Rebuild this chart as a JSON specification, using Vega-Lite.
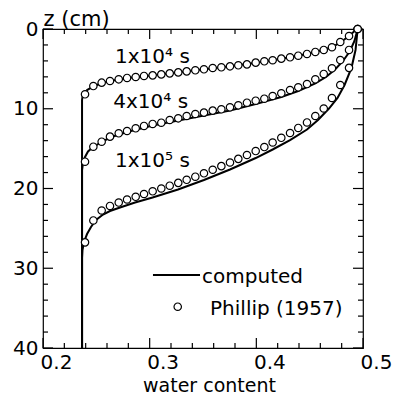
{
  "$schema": "https://vega.github.io/schema/vega-lite/v6.json",
  "width": 320,
  "height": 319,
  "autosize": {"type": "none"},
  "padding": {"left": 43, "top": 29, "right": 35, "bottom": 48},
  "background": "white",
  "config": {"view": {"stroke": "black", "strokeWidth": 1.2}},
  "datasets": {
    "lines": [
      {"curve": "t1", "o": 0, "theta": 0.2366, "z": 40},
      {"curve": "t1", "o": 1, "theta": 0.2366, "z": 8.9},
      {"curve": "t1", "o": 2, "theta": 0.2370, "z": 8.53},
      {"curve": "t1", "o": 3, "theta": 0.2384, "z": 8.15},
      {"curve": "t1", "o": 4, "theta": 0.2413, "z": 7.65},
      {"curve": "t1", "o": 5, "theta": 0.2472, "z": 7.21},
      {"curve": "t1", "o": 6, "theta": 0.2550, "z": 6.77},
      {"curve": "t1", "o": 7, "theta": 0.2628, "z": 6.52},
      {"curve": "t1", "o": 8, "theta": 0.2788, "z": 6.14},
      {"curve": "t1", "o": 9, "theta": 0.3028, "z": 5.81},
      {"curve": "t1", "o": 10, "theta": 0.3268, "z": 5.43},
      {"curve": "t1", "o": 11, "theta": 0.3509, "z": 5.05},
      {"curve": "t1", "o": 12, "theta": 0.3753, "z": 4.68},
      {"curve": "t1", "o": 13, "theta": 0.3994, "z": 4.23},
      {"curve": "t1", "o": 14, "theta": 0.4234, "z": 3.72},
      {"curve": "t1", "o": 15, "theta": 0.4393, "z": 3.35},
      {"curve": "t1", "o": 16, "theta": 0.4553, "z": 2.88},
      {"curve": "t1", "o": 17, "theta": 0.4709, "z": 2.29},
      {"curve": "t1", "o": 18, "theta": 0.4787, "z": 1.69},
      {"curve": "t1", "o": 19, "theta": 0.4869, "z": 0.88},
      {"curve": "t1", "o": 20, "theta": 0.4916, "z": 0.31},
      {"curve": "t1", "o": 21, "theta": 0.495, "z": 0},
      {"curve": "t4", "o": 0, "theta": 0.2366, "z": 40},
      {"curve": "t4", "o": 1, "theta": 0.2366, "z": 17.68},
      {"curve": "t4", "o": 2, "theta": 0.2375, "z": 16.80},
      {"curve": "t4", "o": 3, "theta": 0.2394, "z": 16.05},
      {"curve": "t4", "o": 4, "theta": 0.2422, "z": 15.36},
      {"curve": "t4", "o": 5, "theta": 0.2469, "z": 14.80},
      {"curve": "t4", "o": 6, "theta": 0.2550, "z": 14.17},
      {"curve": "t4", "o": 7, "theta": 0.2628, "z": 13.61},
      {"curve": "t4", "o": 8, "theta": 0.2788, "z": 12.92},
      {"curve": "t4", "o": 9, "theta": 0.3028, "z": 12.10},
      {"curve": "t4", "o": 10, "theta": 0.3268, "z": 11.47},
      {"curve": "t4", "o": 11, "theta": 0.3509, "z": 10.85},
      {"curve": "t4", "o": 12, "theta": 0.3753, "z": 10.22},
      {"curve": "t4", "o": 13, "theta": 0.3994, "z": 9.40},
      {"curve": "t4", "o": 14, "theta": 0.4234, "z": 8.53},
      {"curve": "t4", "o": 15, "theta": 0.4393, "z": 7.77},
      {"curve": "t4", "o": 16, "theta": 0.4553, "z": 6.83},
      {"curve": "t4", "o": 17, "theta": 0.4653, "z": 6.02},
      {"curve": "t4", "o": 18, "theta": 0.4738, "z": 5.08},
      {"curve": "t4", "o": 19, "theta": 0.4813, "z": 4.01},
      {"curve": "t4", "o": 20, "theta": 0.4878, "z": 2.76},
      {"curve": "t4", "o": 21, "theta": 0.4920, "z": 1.50},
      {"curve": "t4", "o": 22, "theta": 0.495, "z": 0},
      {"curve": "t10", "o": 0, "theta": 0.2366, "z": 40},
      {"curve": "t10", "o": 1, "theta": 0.2366, "z": 28.71},
      {"curve": "t10", "o": 2, "theta": 0.2370, "z": 27.71},
      {"curve": "t10", "o": 3, "theta": 0.2384, "z": 26.71},
      {"curve": "t10", "o": 4, "theta": 0.2413, "z": 25.71},
      {"curve": "t10", "o": 5, "theta": 0.2450, "z": 24.83},
      {"curve": "t10", "o": 6, "theta": 0.2497, "z": 23.95},
      {"curve": "t10", "o": 7, "theta": 0.2563, "z": 23.26},
      {"curve": "t10", "o": 8, "theta": 0.2628, "z": 22.82},
      {"curve": "t10", "o": 9, "theta": 0.2722, "z": 22.38},
      {"curve": "t10", "o": 10, "theta": 0.2863, "z": 21.76},
      {"curve": "t10", "o": 11, "theta": 0.3027, "z": 21.13},
      {"curve": "t10", "o": 12, "theta": 0.3266, "z": 20.13},
      {"curve": "t10", "o": 13, "theta": 0.3509, "z": 18.94},
      {"curve": "t10", "o": 14, "theta": 0.3753, "z": 17.62},
      {"curve": "t10", "o": 15, "theta": 0.3994, "z": 16.18},
      {"curve": "t10", "o": 16, "theta": 0.4153, "z": 15.11},
      {"curve": "t10", "o": 17, "theta": 0.4316, "z": 13.92},
      {"curve": "t10", "o": 18, "theta": 0.4475, "z": 12.60},
      {"curve": "t10", "o": 19, "theta": 0.4578, "z": 11.41},
      {"curve": "t10", "o": 20, "theta": 0.4681, "z": 9.97},
      {"curve": "t10", "o": 21, "theta": 0.4761, "z": 8.65},
      {"curve": "t10", "o": 22, "theta": 0.4827, "z": 7.02},
      {"curve": "t10", "o": 23, "theta": 0.4892, "z": 4.87},
      {"curve": "t10", "o": 24, "theta": 0.4930, "z": 2.63},
      {"curve": "t10", "o": 25, "theta": 0.495, "z": 0}
    ],
    "pts": [
      {"curve": "t1", "theta": 0.2394, "z": 8.19},
      {"curve": "t1", "theta": 0.2472, "z": 7.15},
      {"curve": "t1", "theta": 0.2550, "z": 6.73},
      {"curve": "t1", "theta": 0.2628, "z": 6.52},
      {"curve": "t1", "theta": 0.2710, "z": 6.31},
      {"curve": "t1", "theta": 0.2788, "z": 6.14},
      {"curve": "t1", "theta": 0.2869, "z": 6.02},
      {"curve": "t1", "theta": 0.2947, "z": 5.89},
      {"curve": "t1", "theta": 0.3028, "z": 5.81},
      {"curve": "t1", "theta": 0.3109, "z": 5.69},
      {"curve": "t1", "theta": 0.3188, "z": 5.56},
      {"curve": "t1", "theta": 0.3268, "z": 5.44},
      {"curve": "t1", "theta": 0.3347, "z": 5.31},
      {"curve": "t1", "theta": 0.3428, "z": 5.18},
      {"curve": "t1", "theta": 0.3509, "z": 5.05},
      {"curve": "t1", "theta": 0.3591, "z": 4.89},
      {"curve": "t1", "theta": 0.3672, "z": 4.80},
      {"curve": "t1", "theta": 0.3753, "z": 4.68},
      {"curve": "t1", "theta": 0.3831, "z": 4.55},
      {"curve": "t1", "theta": 0.3912, "z": 4.43},
      {"curve": "t1", "theta": 0.3994, "z": 4.22},
      {"curve": "t1", "theta": 0.4075, "z": 4.05},
      {"curve": "t1", "theta": 0.4153, "z": 3.92},
      {"curve": "t1", "theta": 0.4234, "z": 3.72},
      {"curve": "t1", "theta": 0.4316, "z": 3.55},
      {"curve": "t1", "theta": 0.4393, "z": 3.35},
      {"curve": "t1", "theta": 0.4475, "z": 3.13},
      {"curve": "t1", "theta": 0.4553, "z": 2.88},
      {"curve": "t1", "theta": 0.4632, "z": 2.63},
      {"curve": "t1", "theta": 0.4709, "z": 2.29},
      {"curve": "t1", "theta": 0.4787, "z": 1.63},
      {"curve": "t1", "theta": 0.4869, "z": 0.88},
      {"curve": "t1", "theta": 0.4950, "z": 0},
      {"curve": "t4", "theta": 0.2394, "z": 16.64},
      {"curve": "t4", "theta": 0.2472, "z": 14.76},
      {"curve": "t4", "theta": 0.2550, "z": 14.13},
      {"curve": "t4", "theta": 0.2628, "z": 13.50},
      {"curve": "t4", "theta": 0.2710, "z": 13.08},
      {"curve": "t4", "theta": 0.2788, "z": 12.79},
      {"curve": "t4", "theta": 0.2869, "z": 12.45},
      {"curve": "t4", "theta": 0.2947, "z": 12.16},
      {"curve": "t4", "theta": 0.3028, "z": 11.91},
      {"curve": "t4", "theta": 0.3109, "z": 11.75},
      {"curve": "t4", "theta": 0.3188, "z": 11.41},
      {"curve": "t4", "theta": 0.3268, "z": 11.20},
      {"curve": "t4", "theta": 0.3347, "z": 10.91},
      {"curve": "t4", "theta": 0.3428, "z": 10.66},
      {"curve": "t4", "theta": 0.3509, "z": 10.49},
      {"curve": "t4", "theta": 0.3591, "z": 10.24},
      {"curve": "t4", "theta": 0.3672, "z": 10.07},
      {"curve": "t4", "theta": 0.3753, "z": 9.82},
      {"curve": "t4", "theta": 0.3831, "z": 9.57},
      {"curve": "t4", "theta": 0.3912, "z": 9.24},
      {"curve": "t4", "theta": 0.3994, "z": 8.99},
      {"curve": "t4", "theta": 0.4075, "z": 8.74},
      {"curve": "t4", "theta": 0.4153, "z": 8.40},
      {"curve": "t4", "theta": 0.4234, "z": 8.06},
      {"curve": "t4", "theta": 0.4316, "z": 7.65},
      {"curve": "t4", "theta": 0.4393, "z": 7.31},
      {"curve": "t4", "theta": 0.4475, "z": 6.90},
      {"curve": "t4", "theta": 0.4553, "z": 6.31},
      {"curve": "t4", "theta": 0.4632, "z": 5.64},
      {"curve": "t4", "theta": 0.4709, "z": 4.93},
      {"curve": "t4", "theta": 0.4787, "z": 3.89},
      {"curve": "t4", "theta": 0.4869, "z": 2.63},
      {"curve": "t4", "theta": 0.4950, "z": 0},
      {"curve": "t10", "theta": 0.2394, "z": 26.75},
      {"curve": "t10", "theta": 0.2472, "z": 24.01},
      {"curve": "t10", "theta": 0.2550, "z": 22.76},
      {"curve": "t10", "theta": 0.2628, "z": 22.19},
      {"curve": "t10", "theta": 0.2710, "z": 21.76},
      {"curve": "t10", "theta": 0.2788, "z": 21.38},
      {"curve": "t10", "theta": 0.2869, "z": 21.04},
      {"curve": "t10", "theta": 0.2947, "z": 20.69},
      {"curve": "t10", "theta": 0.3028, "z": 20.35},
      {"curve": "t10", "theta": 0.3109, "z": 20.00},
      {"curve": "t10", "theta": 0.3188, "z": 19.65},
      {"curve": "t10", "theta": 0.3268, "z": 19.29},
      {"curve": "t10", "theta": 0.3347, "z": 18.91},
      {"curve": "t10", "theta": 0.3428, "z": 18.52},
      {"curve": "t10", "theta": 0.3509, "z": 18.09},
      {"curve": "t10", "theta": 0.3591, "z": 17.65},
      {"curve": "t10", "theta": 0.3672, "z": 17.20},
      {"curve": "t10", "theta": 0.3753, "z": 16.74},
      {"curve": "t10", "theta": 0.3831, "z": 16.28},
      {"curve": "t10", "theta": 0.3912, "z": 15.80},
      {"curve": "t10", "theta": 0.3994, "z": 15.30},
      {"curve": "t10", "theta": 0.4075, "z": 14.80},
      {"curve": "t10", "theta": 0.4153, "z": 14.23},
      {"curve": "t10", "theta": 0.4234, "z": 13.64},
      {"curve": "t10", "theta": 0.4316, "z": 13.04},
      {"curve": "t10", "theta": 0.4393, "z": 12.41},
      {"curve": "t10", "theta": 0.4475, "z": 11.72},
      {"curve": "t10", "theta": 0.4553, "z": 10.91},
      {"curve": "t10", "theta": 0.4632, "z": 9.97},
      {"curve": "t10", "theta": 0.4709, "z": 8.65},
      {"curve": "t10", "theta": 0.4787, "z": 7.02},
      {"curve": "t10", "theta": 0.4869, "z": 4.87},
      {"curve": "t10", "theta": 0.4950, "z": 0}
    ],
    "labels": [
      {"label": "1x10⁴ s", "theta": 0.2675, "z": 4.3},
      {"label": "4x10⁴ s", "theta": 0.2659, "z": 9.94},
      {"label": "1x10⁵ s", "theta": 0.2675, "z": 17.35}
    ],
    "legline": [
      {"theta": 0.3031, "z": 30.85},
      {"theta": 0.3472, "z": 30.85}
    ],
    "legpt": [
      {"theta": 0.3263, "z": 34.82}
    ],
    "legtext": [
      {"label": "computed", "theta": 0.3491, "z": 31.9},
      {"label": "Phillip (1957)", "theta": 0.3566, "z": 35.86}
    ],
    "xticks": [
      {"v": 0.2, "kind": "major"}, {"v": 0.22, "kind": "minor"}, {"v": 0.24, "kind": "minor"},
      {"v": 0.26, "kind": "minor"}, {"v": 0.28, "kind": "minor"}, {"v": 0.3, "kind": "major"},
      {"v": 0.32, "kind": "minor"}, {"v": 0.34, "kind": "minor"}, {"v": 0.36, "kind": "minor"},
      {"v": 0.38, "kind": "minor"}, {"v": 0.4, "kind": "major"}, {"v": 0.42, "kind": "minor"},
      {"v": 0.44, "kind": "minor"}, {"v": 0.46, "kind": "minor"}, {"v": 0.48, "kind": "minor"},
      {"v": 0.5, "kind": "major"}
    ],
    "yticks": [
      {"v": 0, "kind": "major"}, {"v": 2, "kind": "minor"}, {"v": 4, "kind": "minor"},
      {"v": 6, "kind": "minor"}, {"v": 8, "kind": "minor"}, {"v": 10, "kind": "major"},
      {"v": 12, "kind": "minor"}, {"v": 14, "kind": "minor"}, {"v": 16, "kind": "minor"},
      {"v": 18, "kind": "minor"}, {"v": 20, "kind": "major"}, {"v": 22, "kind": "minor"},
      {"v": 24, "kind": "minor"}, {"v": 26, "kind": "minor"}, {"v": 28, "kind": "minor"},
      {"v": 30, "kind": "major"}, {"v": 32, "kind": "minor"}, {"v": 34, "kind": "minor"},
      {"v": 36, "kind": "minor"}, {"v": 38, "kind": "minor"}, {"v": 40, "kind": "major"}
    ]
  },
  "layer": [
    {
      "data": {"name": "lines"},
      "mark": {"type": "line", "color": "black", "strokeWidth": 2},
      "encoding": {
        "x": {"field": "theta", "type": "quantitative",
          "scale": {"domain": [0.2, 0.5], "nice": false, "zero": false},
          "axis": {"orient": "bottom", "grid": false, "domain": false, "ticks": false, "tickSize": 0,
            "values": [0.2, 0.3, 0.4, 0.5], "format": ".1f",
            "labelPadding": 4.7,
            "labelFont": "DejaVu Sans", "labelFontSize": 20, "labelColor": "black", "labelOffset": 13,
            "labelFlush": false, "labelOverlap": false,
            "title": "water content", "titleFont": "DejaVu Sans", "titleFontSize": 19, "titleFontWeight": "normal", "titleColor": "black",
            "titleX": 166, "titleY": 43.5, "titleBaseline": "alphabetic", "titleAlign": "center"}},
        "y": {"field": "z", "type": "quantitative",
          "scale": {"domain": [0, 40], "reverse": true, "nice": false, "zero": false},
          "axis": {"orient": "left", "grid": false, "domain": false, "ticks": false, "tickSize": 0,
            "values": [0, 10, 20, 30, 40], "format": "d",
            "labelPadding": 5,
            "labelFont": "DejaVu Sans", "labelFontSize": 20, "labelColor": "black",
            "labelFlush": false, "labelOverlap": false,
            "title": "z (cm)", "titleFont": "DejaVu Sans", "titleFontSize": 21, "titleFontWeight": "normal", "titleColor": "black",
            "titleAngle": 0, "titleX": 0, "titleY": -4, "titleAlign": "left", "titleBaseline": "alphabetic"}},
        "detail": {"field": "curve"},
        "order": {"field": "o", "type": "quantitative"}
      }
    },
    {
      "data": {"name": "xticks"},
      "transform": [{"filter": "datum.kind == 'major'"}],
      "mark": {"type": "rule", "color": "black", "strokeWidth": 1.2},
      "encoding": {
        "x": {"field": "v", "type": "quantitative"},
        "y": {"datum": 40, "type": "quantitative"},
        "y2": {"datum": 38.746}
      }
    },
    {
      "data": {"name": "xticks"},
      "transform": [{"filter": "datum.kind == 'major'"}],
      "mark": {"type": "rule", "color": "black", "strokeWidth": 1.2},
      "encoding": {
        "x": {"field": "v", "type": "quantitative"},
        "y": {"datum": 0, "type": "quantitative"},
        "y2": {"datum": 1.254}
      }
    },
    {
      "data": {"name": "xticks"},
      "transform": [{"filter": "datum.kind == 'minor'"}],
      "mark": {"type": "rule", "color": "black", "strokeWidth": 1.2},
      "encoding": {
        "x": {"field": "v", "type": "quantitative"},
        "y": {"datum": 40, "type": "quantitative"},
        "y2": {"datum": 39.373}
      }
    },
    {
      "data": {"name": "xticks"},
      "transform": [{"filter": "datum.kind == 'minor'"}],
      "mark": {"type": "rule", "color": "black", "strokeWidth": 1.2},
      "encoding": {
        "x": {"field": "v", "type": "quantitative"},
        "y": {"datum": 0, "type": "quantitative"},
        "y2": {"datum": 0.627}
      }
    },
    {
      "data": {"name": "yticks"},
      "transform": [{"filter": "datum.kind == 'major'"}],
      "mark": {"type": "rule", "color": "black", "strokeWidth": 1.2},
      "encoding": {
        "y": {"field": "v", "type": "quantitative"},
        "x": {"datum": 0.2, "type": "quantitative"},
        "x2": {"datum": 0.209375}
      }
    },
    {
      "data": {"name": "yticks"},
      "transform": [{"filter": "datum.kind == 'major'"}],
      "mark": {"type": "rule", "color": "black", "strokeWidth": 1.2},
      "encoding": {
        "y": {"field": "v", "type": "quantitative"},
        "x": {"datum": 0.5, "type": "quantitative"},
        "x2": {"datum": 0.490625}
      }
    },
    {
      "data": {"name": "yticks"},
      "transform": [{"filter": "datum.kind == 'minor'"}],
      "mark": {"type": "rule", "color": "black", "strokeWidth": 1.2},
      "encoding": {
        "y": {"field": "v", "type": "quantitative"},
        "x": {"datum": 0.2, "type": "quantitative"},
        "x2": {"datum": 0.2046875}
      }
    },
    {
      "data": {"name": "yticks"},
      "transform": [{"filter": "datum.kind == 'minor'"}],
      "mark": {"type": "rule", "color": "black", "strokeWidth": 1.2},
      "encoding": {
        "y": {"field": "v", "type": "quantitative"},
        "x": {"datum": 0.5, "type": "quantitative"},
        "x2": {"datum": 0.4953125}
      }
    },
    {
      "data": {"name": "pts"},
      "mark": {"type": "point", "shape": "circle", "filled": false, "fill": "white", "fillOpacity": 1, "stroke": "black", "strokeWidth": 1.2, "size": 55, "opacity": 1},
      "encoding": {
        "x": {"field": "theta", "type": "quantitative"},
        "y": {"field": "z", "type": "quantitative"}
      }
    },
    {
      "data": {"name": "legline"},
      "mark": {"type": "line", "color": "black", "strokeWidth": 2},
      "encoding": {
        "x": {"field": "theta", "type": "quantitative"},
        "y": {"field": "z", "type": "quantitative"}
      }
    },
    {
      "data": {"name": "legpt"},
      "mark": {"type": "point", "shape": "circle", "filled": false, "fill": "white", "fillOpacity": 1, "stroke": "black", "strokeWidth": 1.2, "size": 55, "opacity": 1},
      "encoding": {
        "x": {"field": "theta", "type": "quantitative"},
        "y": {"field": "z", "type": "quantitative"}
      }
    },
    {
      "data": {"name": "labels"},
      "mark": {"type": "text", "align": "left", "baseline": "alphabetic", "font": "DejaVu Sans", "fontSize": 20, "color": "black"},
      "encoding": {
        "x": {"field": "theta", "type": "quantitative"},
        "y": {"field": "z", "type": "quantitative"},
        "text": {"field": "label"}
      }
    },
    {
      "data": {"name": "legtext"},
      "mark": {"type": "text", "align": "left", "baseline": "alphabetic", "font": "DejaVu Sans", "fontSize": 20, "color": "black"},
      "encoding": {
        "x": {"field": "theta", "type": "quantitative"},
        "y": {"field": "z", "type": "quantitative"},
        "text": {"field": "label"}
      }
    }
  ]
}
